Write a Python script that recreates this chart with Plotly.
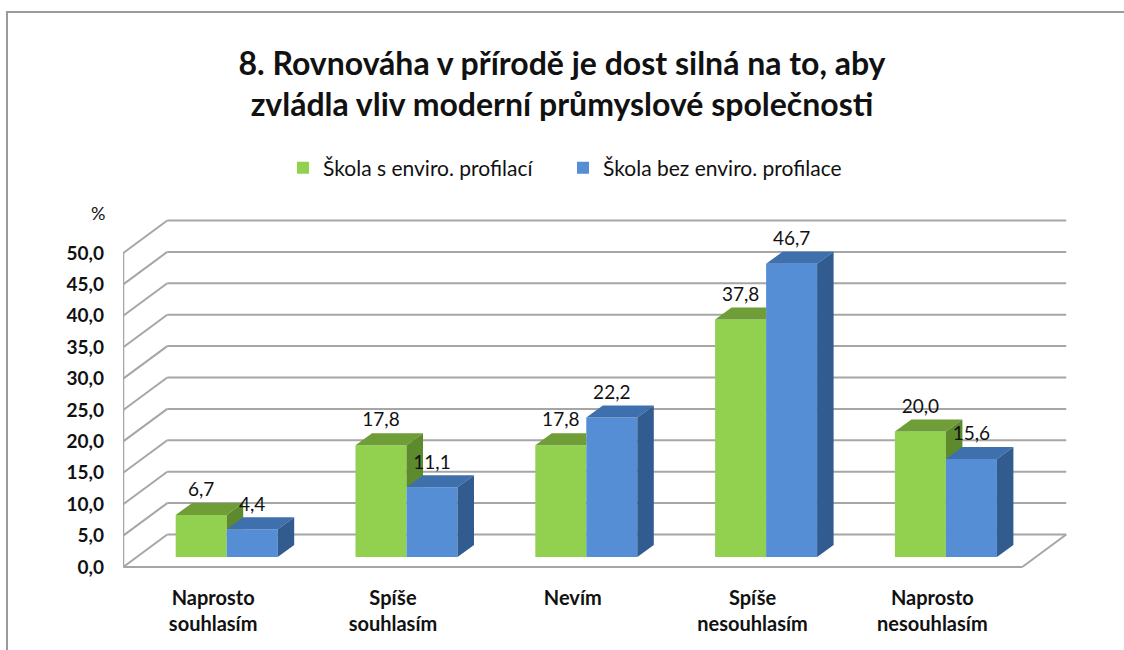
import plotly.graph_objects as go

# ---------------- data ----------------
categories = ["Naprosto<br>souhlasím", "Spíše<br>souhlasím", "Nevím",
              "Spíše<br>nesouhlasím", "Naprosto<br>nesouhlasím"]
series_names = ["Škola s enviro. profilací", "Škola bez enviro. profilace"]
values_env = [6.7, 17.8, 17.8, 37.8, 20.0]
values_noenv = [4.4, 11.1, 22.2, 46.7, 15.6]
y_ticks = [0, 5, 10, 15, 20, 25, 30, 35, 40, 45, 50]
y_tick_labels = ["0,0", "5,0", "10,0", "15,0", "20,0", "25,0", "30,0",
                 "35,0", "40,0", "45,0", "50,0"]
title_text = ("8. Rovnováha v přírodě je dost silná na to, aby<br>"
              "zvládla vliv moderní průmyslové společnosti")

# ---------------- styles / geometry ----------------
W, H = 1124, 650
M_L, M_R, M_T, M_B = 123, 54, 200, 75
SX = 179.8          # px per category
SY = 6.28           # px per percent
X0_PX = 226.7       # pixel of first category centre (bar front plane)
Y0_PX = 557.0       # pixel of value 0 at bar front plane
BAR_W = 51 / SX
FACE_DX, FACE_DY = 16.5 / SX, 12 / SY
WALL_DX, WALL_DY = 44 / SX, 32.5 / SY
D0 = 10 / 32.5
LABEL_DY = 23.5 / SY

GREEN = "#92D050"; GREEN_TOP = "#6F9E38"; GREEN_SIDE = "#5D8A2D"
BLUE = "#558ED5"; BLUE_TOP = "#3F70AE"; BLUE_SIDE = "#325C90"
GRID = "#A6A6A6"
FONT = "Lato"

n = len(categories)
xs = list(range(n))
x_range = [(M_L - X0_PX) / SX, (W - M_R - X0_PX) / SX]
y_range = [(Y0_PX - (H - M_B)) / SY, (Y0_PX - M_T) / SY]


def fmt(v):
    return f"{v:.1f}".replace(".", ",")


fig = go.Figure()

# front faces (bars)
fig.add_trace(go.Bar(x=xs, y=values_env, name=series_names[0],
                     marker=dict(color=GREEN, line=dict(width=0)), hoverinfo="skip"))
fig.add_trace(go.Bar(x=xs, y=values_noenv, name=series_names[1],
                     marker=dict(color=BLUE, line=dict(width=0)), hoverinfo="skip"))

# 3D faces computed from the values
g_top_x, g_top_y, g_side_x, g_side_y = [], [], [], []
b_top_x, b_top_y, b_side_x, b_side_y = [], [], [], []


def add_poly(px, py, pts):
    for (a, b) in pts + [pts[0]]:
        px.append(a); py.append(b)
    px.append(None); py.append(None)


for i, (vg, vb) in enumerate(zip(values_env, values_noenv)):
    xl, xr = i - BAR_W, i
    # green top face (hidden part behind blue front removed)
    if vb <= vg:
        pts = [(xl, vg), (xr, vg), (xr + FACE_DX, vg + FACE_DY), (xl + FACE_DX, vg + FACE_DY)]
    elif vb >= vg + FACE_DY:
        pts = [(xl, vg), (xr, vg), (xr, vg + FACE_DY), (xl + FACE_DX, vg + FACE_DY)]
    else:
        xc = xr + (vb - vg) / FACE_DY * FACE_DX
        pts = [(xl, vg), (xr, vg), (xr, vb), (xc, vb), (xr + FACE_DX, vg + FACE_DY),
               (xl + FACE_DX, vg + FACE_DY)]
    add_poly(g_top_x, g_top_y, pts)
    # green side face (visible only above the blue bar)
    if vg >= vb:
        add_poly(g_side_x, g_side_y, [(xr, vb), (xr + FACE_DX, vb),
                                      (xr + FACE_DX, vg + FACE_DY), (xr, vg)])
    elif vg + FACE_DY > vb:
        xc = xr + (vb - vg) / FACE_DY * FACE_DX
        add_poly(g_side_x, g_side_y, [(xc, vb), (xr + FACE_DX, vb), (xr + FACE_DX, vg + FACE_DY)])
    # blue top & side
    bl, br = xr, xr + BAR_W
    add_poly(b_top_x, b_top_y, [(bl, vb), (br, vb), (br + FACE_DX, vb + FACE_DY),
                                (bl + FACE_DX, vb + FACE_DY)])
    add_poly(b_side_x, b_side_y, [(br, 0), (br + FACE_DX, FACE_DY),
                                  (br + FACE_DX, vb + FACE_DY), (br, vb)])

for px, py, col in [(g_top_x, g_top_y, GREEN_TOP), (g_side_x, g_side_y, GREEN_SIDE),
                    (b_top_x, b_top_y, BLUE_TOP), (b_side_x, b_side_y, BLUE_SIDE)]:
    fig.add_trace(go.Scatter(x=px, y=py, mode="lines", fill="toself", fillcolor=col,
                             line=dict(width=0, color=col), showlegend=False,
                             hoverinfo="skip"))

# data labels
fig.add_trace(go.Scatter(
    x=[i - BAR_W / 2 for i in xs] + [i + BAR_W / 2 for i in xs],
    y=[v + LABEL_DY for v in values_env] + [v + LABEL_DY for v in values_noenv],
    text=[fmt(v) for v in values_env] + [fmt(v) for v in values_noenv],
    mode="text", textposition="middle center",
    textfont=dict(family=FONT, size=19, color="#111111"),
    showlegend=False, hoverinfo="skip", cliponaxis=False))

# walls, floor, gridlines
xf_l = -0.5 - D0 * WALL_DX
xf_r = (n - 0.5) - D0 * WALL_DX
xb_l = -0.5 + (1 - D0) * WALL_DX
xb_r = (n - 0.5) + (1 - D0) * WALL_DX
yf = -D0 * WALL_DY
yb = (1 - D0) * WALL_DY
line_style = dict(color=GRID, width=2)
shapes = []
for v in y_ticks:
    shapes.append(dict(type="line", x0=xb_l, x1=xb_r, y0=v + yb, y1=v + yb,
                       xref="x", yref="y", line=line_style, layer="below"))
    shapes.append(dict(type="line", x0=xf_l, x1=xb_l, y0=v + yf, y1=v + yb,
                       xref="x", yref="y", line=line_style, layer="below"))
shapes.append(dict(type="line", x0=xf_l, x1=xf_l, y0=yf, y1=y_ticks[-1] + yf,
                   xref="x", yref="y", line=line_style, layer="below"))
shapes.append(dict(type="line", x0=xf_l, x1=xf_r, y0=yf, y1=yf,
                   xref="x", yref="y", line=line_style, layer="below"))
shapes.append(dict(type="line", x0=xf_r, x1=xb_r, y0=yf, y1=yb,
                   xref="x", yref="y", line=line_style, layer="below"))
# outer frame of the chart box
pw, ph = W - M_L - M_R, H - M_T - M_B
shapes.append(dict(type="rect", xref="paper", yref="paper",
                   x0=(7 - M_L) / pw, x1=(W + 10 - M_L) / pw,
                   y0=-(H + 10 - (H - M_B)) / ph, y1=((H - M_B) - 12) / ph,
                   line=dict(color="#9A9A9A", width=2), layer="below"))

fig.update_layout(
    width=W, height=H,
    margin=dict(l=M_L, r=M_R, t=M_T, b=M_B),
    paper_bgcolor="white", plot_bgcolor="white",
    barmode="group", bargap=1 - 2 * BAR_W, bargroupgap=0,
    font=dict(family=FONT, color="#111111"),
    title=dict(text=title_text, x=0.5, xanchor="center", xref="container",
               y=1 - 74.5 / H, yanchor="middle", yref="container",
               font=dict(family=FONT, size=32, weight="bold", color="#111111")),
    legend=dict(orientation="h", x=(283 - M_L) / pw, xanchor="left",
                y=((H - M_B) - 168) / ph, yanchor="middle", entrywidth=235,
                font=dict(family=FONT, size=21, color="#111111"),
                bgcolor="rgba(0,0,0,0)"),
    xaxis=dict(range=x_range, showgrid=False, zeroline=False, showline=False,
               tickmode="array", tickvals=[i - D0 * WALL_DX for i in xs],
               ticktext=categories, ticks="", ticklabelstandoff=9,
               tickfont=dict(family=FONT, size=20, weight="bold", color="#111111")),
    yaxis=dict(range=y_range, showgrid=False, zeroline=False, showline=False,
               tickmode="array", tickvals=[v + yf for v in y_ticks],
               ticktext=y_tick_labels, ticks="", ticklabelstandoff=18,
               tickfont=dict(family=FONT, size=19, weight="bold", color="#111111")),
    shapes=shapes,
    annotations=[dict(text="%", xref="paper", yref="paper",
                      x=(98 - M_L) / pw, y=((H - M_B) - 213) / ph,
                      xanchor="center", yanchor="middle", showarrow=False,
                      font=dict(family=FONT, size=18, color="#111111"))],
)

fig.write_html("out.html", config={"displayModeBar": False},
               post_script="document.body.style.margin='0';")
